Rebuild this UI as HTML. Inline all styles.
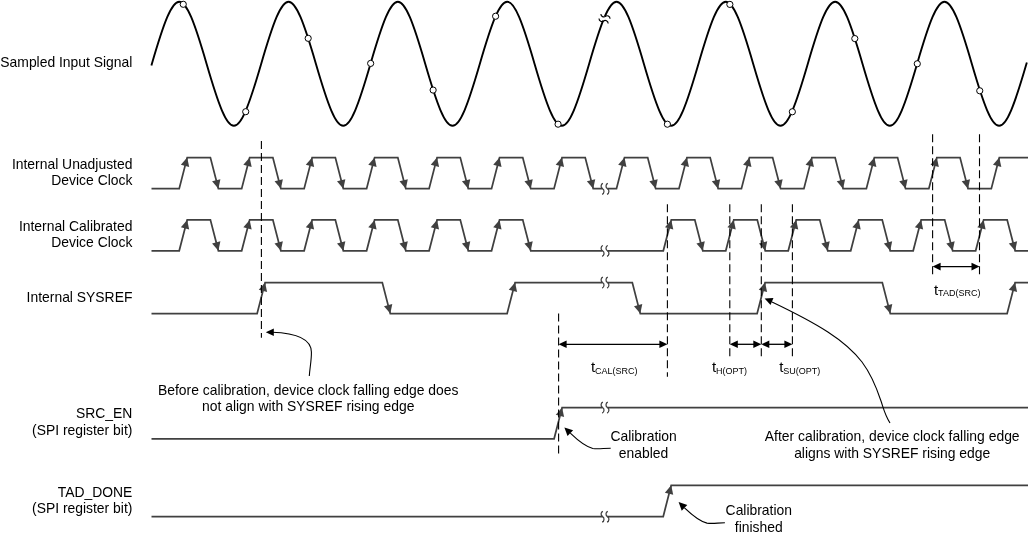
<!DOCTYPE html>
<html><head><meta charset="utf-8"><style>html,body{margin:0;padding:0;background:#fff;overflow:hidden;}svg{display:block;will-change:transform;}</style></head>
<body><svg width="1028" height="537" viewBox="0 0 1028 537">
<path d="M151.5,188.7 L179.2,188.7 L187.2,157.5 L210.4,157.5 L218.4,188.7 L241.67,188.7 L249.67,157.5 L272.87,157.5 L280.87,188.7 L304.14,188.7 L312.14,157.5 L335.34,157.5 L343.34,188.7 L366.61,188.7 L374.61,157.5 L397.81,157.5 L405.81,188.7 L429.08,188.7 L437.08,157.5 L460.28,157.5 L468.28,188.7 L491.55,188.7 L499.55,157.5 L522.75,157.5 L530.75,188.7 L554.02,188.7 L562.02,157.5 L585.22,157.5 L593.22,188.7 L616.49,188.7 L624.49,157.5 L647.69,157.5 L655.69,188.7 L678.96,188.7 L686.96,157.5 L710.16,157.5 L718.16,188.7 L741.43,188.7 L749.43,157.5 L772.63,157.5 L780.63,188.7 L803.9,188.7 L811.9,157.5 L835.1,157.5 L843.1,188.7 L866.37,188.7 L874.37,157.5 L897.57,157.5 L905.57,188.7 L928.84,188.7 L936.84,157.5 L960.04,157.5 L968.04,188.7 L991.31,188.7 L999.31,157.5 L1028,157.5" fill="none" stroke="#404040" stroke-width="1.75" stroke-linejoin="miter"/><polygon points="187.2,157.5 189.2,167 180.87,164.86" fill="#404040"/><polygon points="218.4,188.7 212.07,181.34 220.4,179.2" fill="#404040"/><polygon points="249.67,157.5 251.67,167 243.34,164.86" fill="#404040"/><polygon points="280.87,188.7 274.54,181.34 282.87,179.2" fill="#404040"/><polygon points="312.14,157.5 314.14,167 305.81,164.86" fill="#404040"/><polygon points="343.34,188.7 337.01,181.34 345.34,179.2" fill="#404040"/><polygon points="374.61,157.5 376.61,167 368.28,164.86" fill="#404040"/><polygon points="405.81,188.7 399.48,181.34 407.81,179.2" fill="#404040"/><polygon points="437.08,157.5 439.08,167 430.75,164.86" fill="#404040"/><polygon points="468.28,188.7 461.95,181.34 470.28,179.2" fill="#404040"/><polygon points="499.55,157.5 501.55,167 493.22,164.86" fill="#404040"/><polygon points="530.75,188.7 524.42,181.34 532.75,179.2" fill="#404040"/><polygon points="562.02,157.5 564.02,167 555.69,164.86" fill="#404040"/><polygon points="593.22,188.7 586.89,181.34 595.22,179.2" fill="#404040"/><polygon points="624.49,157.5 626.49,167 618.16,164.86" fill="#404040"/><polygon points="655.69,188.7 649.36,181.34 657.69,179.2" fill="#404040"/><polygon points="686.96,157.5 688.96,167 680.63,164.86" fill="#404040"/><polygon points="718.16,188.7 711.83,181.34 720.16,179.2" fill="#404040"/><polygon points="749.43,157.5 751.43,167 743.1,164.86" fill="#404040"/><polygon points="780.63,188.7 774.3,181.34 782.63,179.2" fill="#404040"/><polygon points="811.9,157.5 813.9,167 805.57,164.86" fill="#404040"/><polygon points="843.1,188.7 836.77,181.34 845.1,179.2" fill="#404040"/><polygon points="874.37,157.5 876.37,167 868.04,164.86" fill="#404040"/><polygon points="905.57,188.7 899.24,181.34 907.57,179.2" fill="#404040"/><polygon points="936.84,157.5 938.84,167 930.51,164.86" fill="#404040"/><polygon points="968.04,188.7 961.71,181.34 970.04,179.2" fill="#404040"/><polygon points="999.31,157.5 1001.31,167 992.98,164.86" fill="#404040"/>
<rect x="602.7" y="186.7" width="4.6" height="4" fill="#fff"/><path d="M602.95,183.4 C600.55,184.1 600.55,187.7 602.55,188.7 C604.55,189.7 604.55,193.3 602.15,194.3" fill="none" stroke="#404040" stroke-width="1.25"/><path d="M607.85,183.4 C605.45,184.1 605.45,187.7 607.45,188.7 C609.45,189.7 609.45,193.3 607.05,194.3" fill="none" stroke="#404040" stroke-width="1.25"/>
<path d="M151.5,250.8 L179.2,250.8 L187.2,219.9 L210.4,219.9 L218.4,250.8 L241.67,250.8 L249.67,219.9 L272.87,219.9 L280.87,250.8 L304.14,250.8 L312.14,219.9 L335.34,219.9 L343.34,250.8 L366.61,250.8 L374.61,219.9 L397.81,219.9 L405.81,250.8 L429.08,250.8 L437.08,219.9 L460.28,219.9 L468.28,250.8 L491.55,250.8 L499.55,219.9 L522.75,219.9 L530.75,250.8 L663.3,250.8 L671.3,219.9 L694.8,219.9 L702.8,250.8 L725.77,250.8 L733.77,219.9 L757.27,219.9 L765.27,250.8 L788.24,250.8 L796.24,219.9 L819.74,219.9 L827.74,250.8 L850.71,250.8 L858.71,219.9 L882.21,219.9 L890.21,250.8 L913.18,250.8 L921.18,219.9 L944.68,219.9 L952.68,250.8 L975.65,250.8 L983.65,219.9 L1007.15,219.9 L1015.15,250.8 L1028,250.8" fill="none" stroke="#404040" stroke-width="1.75" stroke-linejoin="miter"/><polygon points="187.2,219.9 189.18,229.4 180.86,227.24" fill="#404040"/><polygon points="218.4,250.8 212.06,243.46 220.38,241.3" fill="#404040"/><polygon points="249.67,219.9 251.65,229.4 243.33,227.24" fill="#404040"/><polygon points="280.87,250.8 274.53,243.46 282.85,241.3" fill="#404040"/><polygon points="312.14,219.9 314.12,229.4 305.8,227.24" fill="#404040"/><polygon points="343.34,250.8 337,243.46 345.32,241.3" fill="#404040"/><polygon points="374.61,219.9 376.59,229.4 368.27,227.24" fill="#404040"/><polygon points="405.81,250.8 399.47,243.46 407.79,241.3" fill="#404040"/><polygon points="437.08,219.9 439.06,229.4 430.74,227.24" fill="#404040"/><polygon points="468.28,250.8 461.94,243.46 470.26,241.3" fill="#404040"/><polygon points="499.55,219.9 501.53,229.4 493.21,227.24" fill="#404040"/><polygon points="530.75,250.8 524.41,243.46 532.73,241.3" fill="#404040"/><polygon points="671.3,219.9 673.28,229.4 664.96,227.24" fill="#404040"/><polygon points="702.8,250.8 696.46,243.46 704.78,241.3" fill="#404040"/><polygon points="733.77,219.9 735.75,229.4 727.43,227.24" fill="#404040"/><polygon points="765.27,250.8 758.93,243.46 767.25,241.3" fill="#404040"/><polygon points="796.24,219.9 798.22,229.4 789.9,227.24" fill="#404040"/><polygon points="827.74,250.8 821.4,243.46 829.72,241.3" fill="#404040"/><polygon points="858.71,219.9 860.69,229.4 852.37,227.24" fill="#404040"/><polygon points="890.21,250.8 883.87,243.46 892.19,241.3" fill="#404040"/><polygon points="921.18,219.9 923.16,229.4 914.84,227.24" fill="#404040"/><polygon points="952.68,250.8 946.34,243.46 954.66,241.3" fill="#404040"/><polygon points="983.65,219.9 985.63,229.4 977.31,227.24" fill="#404040"/><polygon points="1015.15,250.8 1008.81,243.46 1017.13,241.3" fill="#404040"/>
<rect x="602.7" y="248.8" width="4.6" height="4" fill="#fff"/><path d="M602.95,245.5 C600.55,246.2 600.55,249.8 602.55,250.8 C604.55,251.8 604.55,255.4 602.15,256.4" fill="none" stroke="#404040" stroke-width="1.25"/><path d="M607.85,245.5 C605.45,246.2 605.45,249.8 607.45,250.8 C609.45,251.8 609.45,255.4 607.05,256.4" fill="none" stroke="#404040" stroke-width="1.25"/>
<path d="M151.5,313.6 L257.1,313.6 L265.1,282.5 L382.3,282.5 L390.3,313.6 L507.1,313.6 L515.1,282.5 L632.3,282.5 L640.3,313.6 L757.1,313.6 L765.1,282.5 L882.3,282.5 L890.3,313.6 L1007.1,313.6 L1015.1,282.5 L1028,282.5" fill="none" stroke="#404040" stroke-width="1.75" stroke-linejoin="miter"/><polygon points="265.1,282.5 267.1,292 258.77,289.85" fill="#404040"/><polygon points="390.3,313.6 383.97,306.25 392.3,304.1" fill="#404040"/><polygon points="515.1,282.5 517.1,292 508.77,289.85" fill="#404040"/><polygon points="640.3,313.6 633.97,306.25 642.3,304.1" fill="#404040"/><polygon points="765.1,282.5 767.1,292 758.77,289.85" fill="#404040"/><polygon points="890.3,313.6 883.97,306.25 892.3,304.1" fill="#404040"/><polygon points="1015.1,282.5 1017.1,292 1008.77,289.85" fill="#404040"/>
<rect x="602.7" y="280.5" width="4.6" height="4" fill="#fff"/><path d="M602.95,277.2 C600.55,277.9 600.55,281.5 602.55,282.5 C604.55,283.5 604.55,287.1 602.15,288.1" fill="none" stroke="#404040" stroke-width="1.25"/><path d="M607.85,277.2 C605.45,277.9 605.45,281.5 607.45,282.5 C609.45,283.5 609.45,287.1 607.05,288.1" fill="none" stroke="#404040" stroke-width="1.25"/>
<path d="M151.5,438.75 L554.1,438.75 L562.1,407.5 L1028,407.5" fill="none" stroke="#404040" stroke-width="1.75" stroke-linejoin="miter"/><polygon points="562.1,407.5 564.11,416.99 555.78,414.86" fill="#404040"/>
<rect x="602.7" y="405.5" width="4.6" height="4" fill="#fff"/><path d="M602.95,402.2 C600.55,402.9 600.55,406.5 602.55,407.5 C604.55,408.5 604.55,412.1 602.15,413.1" fill="none" stroke="#404040" stroke-width="1.25"/><path d="M607.85,402.2 C605.45,402.9 605.45,406.5 607.45,407.5 C609.45,408.5 609.45,412.1 607.05,413.1" fill="none" stroke="#404040" stroke-width="1.25"/>
<path d="M151.5,516.6 L663.2,516.6 L671.2,485.3 L1028,485.3" fill="none" stroke="#404040" stroke-width="1.75" stroke-linejoin="miter"/><polygon points="671.2,485.3 673.21,494.79 664.88,492.66" fill="#404040"/>
<rect x="602.7" y="514.6" width="4.6" height="4" fill="#fff"/><path d="M602.95,511.3 C600.55,512 600.55,515.6 602.55,516.6 C604.55,517.6 604.55,521.2 602.15,522.2" fill="none" stroke="#404040" stroke-width="1.25"/><path d="M607.85,511.3 C605.45,512 605.45,515.6 607.45,516.6 C609.45,517.6 609.45,521.2 607.05,522.2" fill="none" stroke="#404040" stroke-width="1.25"/>
<path d="M151.40,65.45 L151.90,63.75 C176.00,-18.98 182.46,-18.98 206.56,63.75 C230.66,146.48 237.12,146.48 261.22,63.75 C285.32,-18.98 291.78,-18.98 315.88,63.75 C339.98,146.48 346.44,146.48 370.54,63.75 C394.64,-18.98 401.10,-18.98 425.20,63.75 C449.30,146.48 455.76,146.48 479.86,63.75 C503.96,-18.98 510.42,-18.98 534.52,63.75 C558.62,146.48 565.08,146.48 589.18,63.75 C613.28,-18.98 619.74,-18.98 643.84,63.75 C667.94,146.48 674.40,146.48 698.50,63.75 C722.60,-18.98 729.06,-18.98 753.16,63.75 C777.26,146.48 783.72,146.48 807.82,63.75 C831.92,-18.98 838.38,-18.98 862.48,63.75 C886.58,146.48 893.04,146.48 917.14,63.75 C941.24,-18.98 947.70,-18.98 971.80,63.75 C995.90,146.48 1002.36,146.48 1026.46,63.75 l0.4,-1.2" fill="none" stroke="#000" stroke-width="1.9"/>
<g transform="translate(604.50,18.65) rotate(-67.75)"><rect x="-2.4" y="-2.5" width="4.8" height="5" fill="#fff"/><path d="M-2,-5.1 C-4.4,-4.2 -4.4,-1 -2.5,0 C-0.6,1 -0.6,4.2 -3,5.2" fill="none" stroke="#000" stroke-width="1.15"/><path d="M3,-5.1 C0.6,-4.2 0.6,-1 2.5,0 C4.4,1 4.4,4.2 2,5.2" fill="none" stroke="#000" stroke-width="1.15"/></g>
<circle cx="183.25" cy="4.29" r="3.1" fill="#fff" stroke="#000" stroke-width="1"/>
<circle cx="245.72" cy="111.71" r="3.1" fill="#fff" stroke="#000" stroke-width="1"/>
<circle cx="308.19" cy="38.32" r="3.1" fill="#fff" stroke="#000" stroke-width="1"/>
<circle cx="370.66" cy="63.39" r="3.1" fill="#fff" stroke="#000" stroke-width="1"/>
<circle cx="433.13" cy="90.07" r="3.1" fill="#fff" stroke="#000" stroke-width="1"/>
<circle cx="495.60" cy="16.23" r="3.1" fill="#fff" stroke="#000" stroke-width="1"/>
<circle cx="558.07" cy="124.18" r="3.1" fill="#fff" stroke="#000" stroke-width="1"/>
<circle cx="667.40" cy="124.19" r="3.1" fill="#fff" stroke="#000" stroke-width="1"/>
<circle cx="729.87" cy="4.41" r="3.1" fill="#fff" stroke="#000" stroke-width="1"/>
<circle cx="792.34" cy="111.77" r="3.1" fill="#fff" stroke="#000" stroke-width="1"/>
<circle cx="854.81" cy="38.58" r="3.1" fill="#fff" stroke="#000" stroke-width="1"/>
<circle cx="917.28" cy="63.77" r="3.1" fill="#fff" stroke="#000" stroke-width="1"/>
<circle cx="979.75" cy="90.78" r="3.1" fill="#fff" stroke="#000" stroke-width="1"/>
<line x1="261.4" y1="141" x2="261.4" y2="337.7" stroke="#000" stroke-width="1.1" stroke-dasharray="8 4"/>
<line x1="558.6" y1="313.4" x2="558.6" y2="453.7" stroke="#000" stroke-width="1.1" stroke-dasharray="8 4"/>
<line x1="667.4" y1="204.3" x2="667.4" y2="376.8" stroke="#000" stroke-width="1.1" stroke-dasharray="8 4"/>
<line x1="729.8" y1="204.3" x2="729.8" y2="356.6" stroke="#000" stroke-width="1.1" stroke-dasharray="8 4"/>
<line x1="761.3" y1="204.3" x2="761.3" y2="356.6" stroke="#000" stroke-width="1.1" stroke-dasharray="8 4"/>
<line x1="792.4" y1="204.3" x2="792.4" y2="356.6" stroke="#000" stroke-width="1.1" stroke-dasharray="8 4"/>
<line x1="932.6" y1="134.3" x2="932.6" y2="275.4" stroke="#000" stroke-width="1.1" stroke-dasharray="8 4"/>
<line x1="979.5" y1="134.3" x2="979.5" y2="275.4" stroke="#000" stroke-width="1.1" stroke-dasharray="8 4"/>
<line x1="936.6" y1="266.6" x2="975.5" y2="266.6" stroke="#000" stroke-width="1.3"/><polygon points="932.6,266.6 940.6,262.8 940.6,270.4" fill="#000"/><polygon points="979.5,266.6 971.5,270.4 971.5,262.8" fill="#000"/>
<line x1="562.6" y1="344.3" x2="663.4" y2="344.3" stroke="#000" stroke-width="1.3"/><polygon points="558.6,344.3 566.6,340.5 566.6,348.1" fill="#000"/><polygon points="667.4,344.3 659.4,348.1 659.4,340.5" fill="#000"/>
<line x1="733.8" y1="344.3" x2="757.3" y2="344.3" stroke="#000" stroke-width="1.3"/><polygon points="729.8,344.3 737.8,340.5 737.8,348.1" fill="#000"/><polygon points="761.3,344.3 753.3,348.1 753.3,340.5" fill="#000"/>
<line x1="765.3" y1="344.3" x2="788.4" y2="344.3" stroke="#000" stroke-width="1.3"/><polygon points="761.3,344.3 769.3,340.5 769.3,348.1" fill="#000"/><polygon points="792.4,344.3 784.4,348.1 784.4,340.5" fill="#000"/>
<path d="M309.3,376 C309.8,368 311.6,360 311.4,352 C311,338 295,333 272,332.3" fill="none" stroke="#000" stroke-width="1.1"/><polygon points="265.8,332.3 273.8,328.5 273.8,336.1" fill="#000"/>
<path d="M890,423 C885,415 884,410 881,401 C876,386 871,374 862,362 C845,340 818,324 772,302" fill="none" stroke="#000" stroke-width="1.1"/><polygon points="764.6,298.5 773.44,298.04 770.55,305.06" fill="#000"/>
<path d="M724.90,522.80 C718.00,522.80 713.00,523.90 707.00,523.10 C700.00,521.50 692.00,515.00 684.50,507.80" fill="none" stroke="#000" stroke-width="1.1"/><polygon points="678.6,502 687.32,504.97 681.71,510.67" fill="#000"/>
<path d="M610.70,448.20 C603.80,448.20 598.80,449.30 592.80,448.50 C585.80,446.90 577.80,440.40 570.30,433.20" fill="none" stroke="#000" stroke-width="1.1"/><polygon points="564.4,427.4 573.12,430.37 567.51,436.07" fill="#000"/>
<text x="132.4" y="67.1" font-family="Liberation Sans, sans-serif" font-size="13.9" text-anchor="end" fill="#000">Sampled Input Signal</text>
<text x="132.4" y="168.6" font-family="Liberation Sans, sans-serif" font-size="13.9" text-anchor="end" fill="#000">Internal Unadjusted</text>
<text x="132.4" y="184.7" font-family="Liberation Sans, sans-serif" font-size="13.9" text-anchor="end" fill="#000">Device Clock</text>
<text x="132.4" y="231.0" font-family="Liberation Sans, sans-serif" font-size="13.9" text-anchor="end" fill="#000">Internal Calibrated</text>
<text x="132.4" y="247.4" font-family="Liberation Sans, sans-serif" font-size="13.9" text-anchor="end" fill="#000">Device Clock</text>
<text x="132.4" y="301.8" font-family="Liberation Sans, sans-serif" font-size="13.9" text-anchor="end" fill="#000">Internal SYSREF</text>
<text x="132.4" y="418.2" font-family="Liberation Sans, sans-serif" font-size="13.9" text-anchor="end" fill="#000">SRC_EN</text>
<text x="132.4" y="434.7" font-family="Liberation Sans, sans-serif" font-size="13.9" text-anchor="end" fill="#000">(SPI register bit)</text>
<text x="132.4" y="496.8" font-family="Liberation Sans, sans-serif" font-size="13.9" text-anchor="end" fill="#000">TAD_DONE</text>
<text x="132.4" y="513" font-family="Liberation Sans, sans-serif" font-size="13.9" text-anchor="end" fill="#000">(SPI register bit)</text>
<text x="308.2" y="395.4" font-family="Liberation Sans, sans-serif" font-size="13.9" text-anchor="middle" fill="#000">Before calibration, device clock falling edge does</text>
<text x="308.2" y="411.3" font-family="Liberation Sans, sans-serif" font-size="13.9" text-anchor="middle" fill="#000">not align with SYSREF rising edge</text>
<text x="643.6" y="441.1" font-family="Liberation Sans, sans-serif" font-size="13.9" text-anchor="middle" fill="#000">Calibration</text>
<text x="643.6" y="457.7" font-family="Liberation Sans, sans-serif" font-size="13.9" text-anchor="middle" fill="#000">enabled</text>
<text x="758.8" y="515.4" font-family="Liberation Sans, sans-serif" font-size="13.9" text-anchor="middle" fill="#000">Calibration</text>
<text x="758.8" y="532.0" font-family="Liberation Sans, sans-serif" font-size="13.9" text-anchor="middle" fill="#000">finished</text>
<text x="892.2" y="441.0" font-family="Liberation Sans, sans-serif" font-size="13.9" text-anchor="middle" fill="#000">After calibration, device clock falling edge</text>
<text x="892.2" y="457.7" font-family="Liberation Sans, sans-serif" font-size="13.9" text-anchor="middle" fill="#000">aligns with SYSREF rising edge</text>
<text x="934.1" y="294.8" font-family="Liberation Sans, sans-serif" font-size="15" fill="#000">t</text><text x="938.1" y="296.3" font-family="Liberation Sans, sans-serif" font-size="9" fill="#000">TAD(SRC)</text>
<text x="590.9" y="372.1" font-family="Liberation Sans, sans-serif" font-size="15" fill="#000">t</text><text x="594.9" y="373.6" font-family="Liberation Sans, sans-serif" font-size="9" fill="#000">CAL(SRC)</text>
<text x="712.0" y="372.1" font-family="Liberation Sans, sans-serif" font-size="15" fill="#000">t</text><text x="716.0" y="373.6" font-family="Liberation Sans, sans-serif" font-size="9" fill="#000">H(OPT)</text>
<text x="779.3" y="372.1" font-family="Liberation Sans, sans-serif" font-size="15" fill="#000">t</text><text x="783.3" y="373.6" font-family="Liberation Sans, sans-serif" font-size="9" fill="#000">SU(OPT)</text>
</svg></body></html>
